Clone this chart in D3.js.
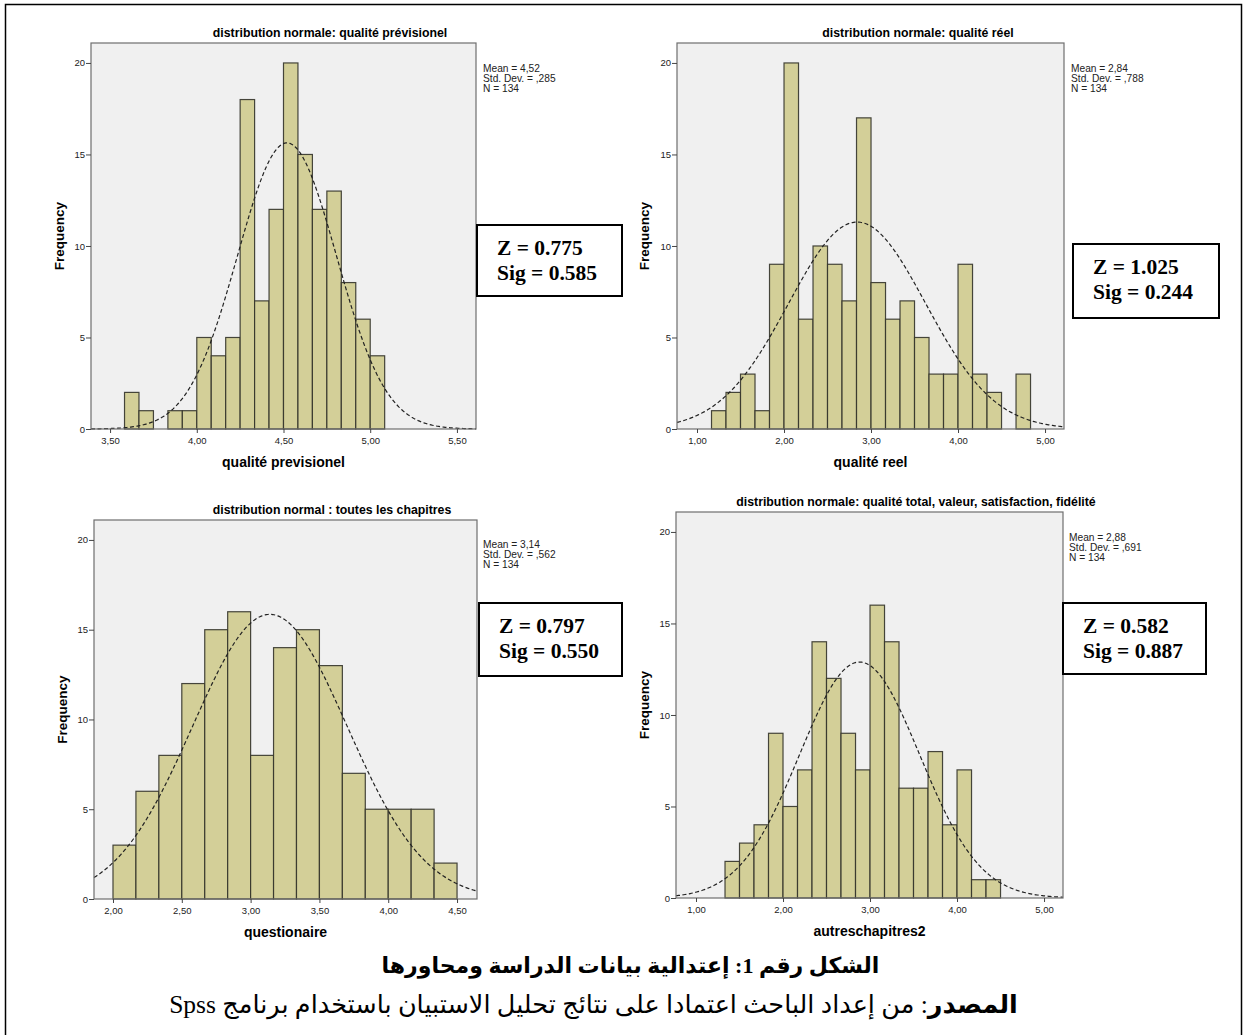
<!DOCTYPE html>
<html>
<head>
<meta charset="utf-8">
<script src="https://cdn.jsdelivr.net/npm/d3@7/dist/d3.min.js"></script>
<style>
body { margin: 0; background: #fff; }
#fig { position: relative; width: 1247px; height: 1035px; }
.caption { position: absolute; width: 1247px; text-align: center; direction: rtl;
  font-family: "Liberation Serif", "DejaVu Sans", serif; color: #000; white-space: nowrap; }
</style>
</head>
<body>
<div id="fig"></div>
<script>

// histogram counts (read from the SPSS output), one array per variable
let prevCounts   = [2, 1, 0, 1, 1, 5, 4, 5, 18, 7, 12, 20, 15, 12, 13, 8, 6, 4];
let reelCounts   = [1, 2, 3, 1, 9, 20, 6, 10, 9, 7, 17, 8, 6, 7, 5, 3, 3, 9, 3, 2, 0, 3];
let questCounts  = [3, 6, 8, 12, 15, 16, 8, 14, 15, 13, 7, 5, 5, 5, 2];
let autresCounts = [2, 3, 4, 9, 5, 7, 14, 12, 9, 7, 16, 14, 6, 6, 8, 4, 7, 1, 1];

let binStarts = [43 / 12, 7 / 6, 2, 4 / 3];
let binWidths = [1 / 12, 1 / 6, 1 / 6, 1 / 6];

let means = [4.52, 2.84, 3.14, 2.88];
let stdDevs = [0.285, 0.788, 0.562, 0.691];
let nObs = [134, 134, 134, 134];

let titles = ["distribution normale: qualité prévisionel",
              "distribution normale: qualité réel",
              "distribution normal : toutes les chapitres",
              "distribution normale: qualité total, valeur, satisfaction, fidélité"];
let xLabels = ["qualité previsionel", "qualité reel", "questionaire", "autreschapitres2"];

let xTicks = [[3.5, 4, 4.5, 5, 5.5], [1, 2, 3, 4, 5], [2, 2.5, 3, 3.5, 4, 4.5], [1, 2, 3, 4, 5]];
let yTicks = [0, 5, 10, 15, 20];

let zValues = ["0.775", "1.025", "0.797", "0.582"];
let sigValues = ["0.585", "0.244", "0.550", "0.887"];

let countsList = [prevCounts, reelCounts, questCounts, autresCounts];

// where each panel sits on the page
let layout = [
  {x0: 91,  x1: 476,  y0: 43,  y1: 429, xd: [3.39, 5.61],  ymax: 21.09, titleX: 330, titleY: 37,  statsX: 483,  statsY: 72,  freqX: 59,  box: {x: 477,  y: 225, w: 145, h: 71}},
  {x0: 677, x1: 1064, y0: 43,  y1: 429, xd: [0.77, 5.218], ymax: 21.09, titleX: 918, titleY: 37,  statsX: 1071, statsY: 72,  freqX: 644, box: {x: 1073, y: 244, w: 146, h: 74}},
  {x0: 94,  x1: 477,  y0: 520, y1: 899, xd: [1.862, 4.645], ymax: 21.11, titleX: 332, titleY: 514, statsX: 483, statsY: 548, freqX: 62,  box: {x: 479,  y: 603, w: 143, h: 73}},
  {x0: 676, x1: 1063, y0: 512, y1: 898, xd: [0.77, 5.218], ymax: 21.09, titleX: 916, titleY: 506, statsX: 1069, statsY: 541, freqX: 644, box: {x: 1063, y: 603, w: 143, h: 71}}
];

let svg = d3.select("#fig").append("svg")
    .attr("width", 1247)
    .attr("height", 1035)
    .style("position", "absolute")
    .style("left", 0).style("top", 0);

// outer frame
svg.append("rect")
    .attr("x", 5.5).attr("y", 4.5)
    .attr("width", 1236).attr("height", 1045)
    .attr("fill", "none").attr("stroke", "#000").attr("stroke-width", 1.5);

let commaFmt = function(f) { return function(d) { return d3.format(f)(d).replace(".", ","); }; };
let sans = "Liberation Sans, Arial, sans-serif";

countsList.forEach(function(counts, i) {
    let L = layout[i];
    let x = d3.scaleLinear().domain(L.xd).range([L.x0, L.x1]);
    let y = d3.scaleLinear().domain([0, L.ymax]).range([L.y1, L.y0]);
    let g = svg.append("g");

    g.append("rect")
        .attr("x", L.x0).attr("y", L.y0)
        .attr("width", L.x1 - L.x0).attr("height", L.y1 - L.y0)
        .attr("fill", "#f0f0f0");

    let bins = counts.map(function(c, k) {
        return {lo: binStarts[i] + k * binWidths[i], hi: binStarts[i] + (k + 1) * binWidths[i], c: c};
    }).filter(function(b) { return b.c > 0; });

    g.selectAll(".bar")
        .data(bins)
        .enter().append("rect")
        .attr("class", "bar")
        .attr("x", function(d) { return x(d.lo); })
        .attr("y", function(d) { return y(d.c); })
        .attr("width", function(d) { return x(d.hi) - x(d.lo); })
        .attr("height", function(d) { return y(0) - y(d.c); })
        .attr("fill", "#d3cf98")
        .attr("stroke", "#33332a")
        .attr("stroke-opacity", 0.9)
        .attr("stroke-width", 1.2);

    // fitted normal curve
    let scale = nObs[i] * binWidths[i];
    let pts = d3.range(0, 301).map(function(k) {
        let v = L.xd[0] + (L.xd[1] - L.xd[0]) * k / 300;
        let z = (v - means[i]) / stdDevs[i];
        return [v, scale * Math.exp(-0.5 * z * z) / (stdDevs[i] * Math.sqrt(2 * Math.PI))];
    });
    g.append("path")
        .datum(pts)
        .attr("d", d3.line().x(function(d) { return x(d[0]); }).y(function(d) { return y(d[1]); }))
        .attr("fill", "none")
        .attr("stroke", "#222")
        .attr("stroke-width", 1.2)
        .attr("stroke-dasharray", "4,2.5");

    g.append("rect")
        .attr("x", L.x0).attr("y", L.y0)
        .attr("width", L.x1 - L.x0).attr("height", L.y1 - L.y0)
        .attr("fill", "none").attr("stroke", "#6e6e6e").attr("stroke-width", 1.2);

    let xAxis = g.append("g")
        .attr("transform", "translate(0," + L.y1 + ")")
        .call(d3.axisBottom(x).tickValues(xTicks[i]).tickSize(4).tickFormat(commaFmt(".2f")));
    let yAxis = g.append("g")
        .attr("transform", "translate(" + L.x0 + ",0)")
        .call(d3.axisLeft(y).tickValues(yTicks).tickSize(5).tickFormat(d3.format("d")));
    [xAxis, yAxis].forEach(function(a) {
        a.select(".domain").remove();
        a.selectAll("line").attr("stroke", "#444");
        a.selectAll("text").attr("font-family", sans).attr("font-size", "9.5px").attr("fill", "#222");
    });
    xAxis.selectAll("text").attr("y", 8);
    yAxis.selectAll("text").attr("x", -6);

    g.append("text")
        .text(titles[i])
        .attr("x", L.titleX).attr("y", L.titleY)
        .attr("text-anchor", "middle")
        .attr("font-family", sans).attr("font-weight", "bold").attr("font-size", "12.3px");

    g.append("text")
        .text(xLabels[i])
        .attr("x", (L.x0 + L.x1) / 2).attr("y", L.y1 + 38)
        .attr("text-anchor", "middle")
        .attr("font-family", sans).attr("font-weight", "bold").attr("font-size", "14px");

    g.append("text")
        .text("Frequency")
        .attr("transform", "translate(" + L.freqX + "," + (L.y0 + L.y1) / 2 + ") rotate(-90)")
        .attr("text-anchor", "middle")
        .attr("dominant-baseline", "central")
        .attr("font-family", sans).attr("font-weight", "bold").attr("font-size", "13.5px");

    let stats = ["Mean = " + commaFmt(".2f")(means[i]),
                 "Std. Dev. = " + commaFmt(".3f")(stdDevs[i]).replace(/^0/, ""),
                 "N = " + nObs[i]];
    g.selectAll(".stat")
        .data(stats)
        .enter().append("text")
        .text(function(d) { return d; })
        .attr("x", L.statsX)
        .attr("y", function(d, k) { return L.statsY + k * 10; })
        .attr("font-family", sans).attr("font-size", "10.2px").attr("fill", "#222");

    // Kolmogorov-Smirnov box
    g.append("rect")
        .attr("x", L.box.x).attr("y", L.box.y)
        .attr("width", L.box.w).attr("height", L.box.h)
        .attr("fill", "#fff").attr("stroke", "#000").attr("stroke-width", 2);
    g.selectAll(".ks")
        .data(["Z = " + zValues[i], "Sig = " + sigValues[i]])
        .enter().append("text")
        .text(function(d) { return d; })
        .attr("x", L.box.x + 20)
        .attr("y", function(d, k) { return L.box.y + 30 + k * 25; })
        .attr("font-family", "Liberation Serif, Times New Roman, serif")
        .attr("font-weight", "bold").attr("font-size", "21.5px");
});

// caption (Arabic)
d3.select("#fig").append("div")
    .attr("class", "caption")
    .style("left", "7px")
    .style("top", "953px")
    .style("font-size", "22px")
    .style("font-weight", "bold")
    .text("الشكل رقم 1: إعتدالية بيانات الدراسة ومحاورها");

let cap2 = d3.select("#fig").append("div")
    .attr("class", "caption")
    .style("left", "-30px")
    .style("top", "989px")
    .style("font-size", "25.5px");
cap2.append("b").text("المصدر");
cap2.append("span").text(": من إعداد الباحث اعتمادا على نتائج تحليل الاستبيان باستخدام برنامج Spss");

</script>
</body>
</html>
